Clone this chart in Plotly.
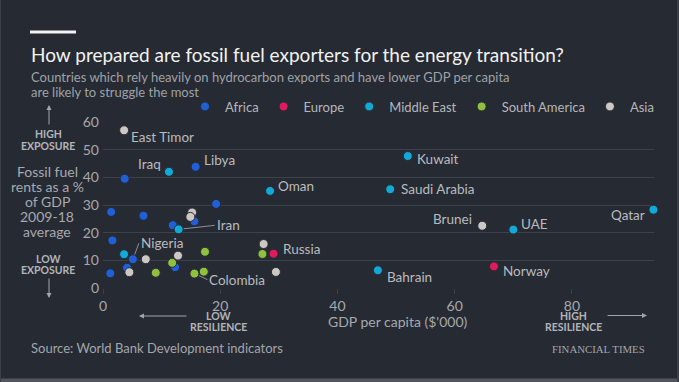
import plotly.graph_objects as go

# ---------------- data ----------------
regions = ["Africa", "Europe", "Middle East", "South America", "Asia"]

africa_x = [3.7, 15.8, 19.3, 1.4, 6.9, 15.6, 11.9, 1.6, 5.1, 12.3, 4.1, 1.25]
africa_y = [39.5, 43.8, 30.4, 27.5, 26.1, 24.1, 22.7, 17.2, 10.4, 7.5, 7.3, 5.3]
africa_names = ["", "Libya", "", "", "", "", "", "", "Nigeria", "", "", ""]

europe_x = [29.1, 66.7]
europe_y = [12.4, 7.8]
europe_names = ["Russia", "Norway"]

mideast_x = [11.25, 28.5, 12.9, 3.6, 52.0, 49.0, 93.9, 70.0, 46.9]
mideast_y = [42.0, 35.1, 21.2, 12.2, 47.7, 35.7, 28.3, 21.1, 6.4]
mideast_names = ["Iraq", "Oman", "Iran", "", "Kuwait", "Saudi Arabia", "Qatar", "UAE", "Bahrain"]

samerica_x = [11.8, 9.0, 15.6, 17.2, 17.4, 27.2]
samerica_y = [9.1, 5.5, 5.2, 5.9, 13.1, 12.3]
samerica_names = ["", "", "Colombia", "", "", ""]

asia_x = [3.6, 15.2, 14.9, 7.3, 12.8, 4.5, 27.4, 29.5, 64.7]
asia_y = [57.0, 27.3, 25.7, 10.4, 11.7, 5.7, 15.9, 5.8, 22.5]
asia_names = ["East Timor", "", "", "", "", "", "", "", "Brunei"]

x_ticks = [0, 20, 40, 60, 80]
y_ticks = [0, 10, 20, 30, 40, 50, 60]

# ---------------- style ----------------
W, H = 679, 382
L, R, T, B = 103, 25, 122, 94
PW, PH = W - L - R, H - T - B
BG = "#262a33"
GRID = "#3d414a"
FONT = "Lato"
colors = {"Africa": "#1f60d8", "Europe": "#e01a5e", "Middle East": "#12a8d8",
          "South America": "#8fc13d", "Asia": "#cdc8c4"}

# label offsets (px): xshift, yshift, anchor; leader lines: ax, ay
label_style = {
    "East Timor": (5, -7, "left"), "Iraq": (-6, 8, "right"), "Libya": (6, 7, "left"),
    "Oman": (6, 5, "left"), "Kuwait": (7, -3, "left"), "Saudi Arabia": (9, 0, "left"),
    "Qatar": (-6, -5, "right"), "Brunei": (-8, 7, "right"), "UAE": (6, 6, "left"),
    "Bahrain": (7, -7, "left"), "Norway": (7, -5, "left"), "Russia": (7, 5, "left"),
}
leader_style = {"Iran": (36, -4), "Nigeria": (6, -16), "Colombia": (13, 6)}

def px2x(px):
    return (px - L) / PW

def px2y(py):
    return 1 - (py - T) / PH

fig = go.Figure()

series = [
    ("Africa", africa_x, africa_y, africa_names),
    ("Europe", europe_x, europe_y, europe_names),
    ("Middle East", mideast_x, mideast_y, mideast_names),
    ("South America", samerica_x, samerica_y, samerica_names),
    ("Asia", asia_x, asia_y, asia_names),
]

LABEL_FONT = dict(family=FONT, size=13.5, color="#b9bbbf")
annotations = []
for name, xs, ys, names in series:
    fig.add_trace(go.Scatter(
        x=xs, y=ys, mode="markers", name=name, cliponaxis=False,
        marker=dict(size=9, color=colors[name], line=dict(width=1, color=BG)),
        hoverinfo="skip"))
    for xv, yv, lab in zip(xs, ys, names):
        if not lab:
            continue
        if lab in label_style:
            xs_, ys_, anc = label_style[lab]
            annotations.append(dict(x=xv, y=yv, xref="x", yref="y", text=lab,
                                    showarrow=False, xanchor=anc, yanchor="middle",
                                    xshift=xs_, yshift=ys_, font=LABEL_FONT))
        else:
            ax, ay = leader_style[lab]
            annotations.append(dict(x=xv, y=yv, xref="x", yref="y", text=lab,
                                    showarrow=True, arrowhead=0, arrowwidth=1,
                                    arrowcolor="#8d9096", ax=ax, ay=ay,
                                    axref="pixel", ayref="pixel", standoff=5,
                                    xanchor="left", yanchor="middle", font=LABEL_FONT))

def txt(px, py, text, size, color, anchor="left", bold=False, family=FONT):
    annotations.append(dict(x=px2x(px), y=px2y(py), xref="paper", yref="paper",
                            text=f"<b>{text}</b>" if bold else text, showarrow=False,
                            xanchor=anchor, yanchor="middle",
                            font=dict(family=family, size=size, color=color)))

def arrow(px_tip, py_tip, ax, ay):
    annotations.append(dict(x=px2x(px_tip), y=px2y(py_tip), xref="paper", yref="paper",
                            text="", showarrow=True, arrowhead=2, arrowsize=1,
                            arrowwidth=1, arrowcolor="#a3a6ab", ax=ax, ay=ay))

# titles
txt(29, 54, "How prepared are fossil fuel exporters for the energy transition?", 19, "#f2f2f2")
txt(29, 77, "Countries which rely heavily on hydrocarbon exports and have lower GDP per capita", 13, "#9fa2a7")
txt(29, 92, "are likely to struggle the most", 13, "#9fa2a7")

# left axis annotations
for py, t in [(134, "HIGH"), (145.5, "EXPOSURE"), (258.5, "LOW"), (269.5, "EXPOSURE")]:
    txt(48, py, t, 10.5, "#b3b5b9", anchor="center", bold=True)
for py, t in [(171, "Fossil fuel"), (186, "rents as a %"), (201, "of GDP"),
              (216.5, "2009-18"), (231.5, "average")]:
    txt(47, py, t, 14, "#a7a9ad", anchor="center")
arrow(49, 105, 0, 21)
arrow(49, 298, 0, -21)

# bottom axis annotations
txt(218.5, 315.5, "LOW", 10.5, "#b3b5b9", anchor="center", bold=True)
txt(218.5, 326.5, "RESILIENCE", 10.5, "#b3b5b9", anchor="center", bold=True)
txt(573.5, 315.5, "HIGH", 10.5, "#b3b5b9", anchor="center", bold=True)
txt(573.5, 326.5, "RESILIENCE", 10.5, "#b3b5b9", anchor="center", bold=True)
txt(398, 321, "GDP per capita ($'000)", 14, "#a7a9ad", anchor="center")
arrow(139, 316, 49, 0)
arrow(647, 315.5, -41, 0)

# footer
txt(29, 347.5, "Source: World Bank Development indicators", 13, "#a3a6ab")
txt(647, 349, "FINANCIAL TIMES", 10.8, "#a3a6ab", anchor="right", family="Liberation Serif")

shapes = [
    dict(type="rect", xref="paper", yref="paper", x0=px2x(30), x1=px2x(76),
         y0=px2y(30.5), y1=px2y(33.5), fillcolor="#f2f2f2", line=dict(width=0)),
    dict(type="rect", xref="paper", yref="paper", x0=px2x(0), x1=px2x(W),
         y0=px2y(378.5), y1=px2y(H), fillcolor="#52555c", line=dict(width=0)),
    dict(type="rect", xref="paper", yref="paper", x0=px2x(0), x1=px2x(1),
         y0=px2y(0), y1=px2y(H), fillcolor="#3c3f46", line=dict(width=0)),
    dict(type="rect", xref="paper", yref="paper", x0=px2x(W - 2), x1=px2x(W),
         y0=px2y(0), y1=px2y(H), fillcolor="#3c3f46", line=dict(width=0)),
]

fig.update_layout(
    width=W, height=H, paper_bgcolor=BG, plot_bgcolor=BG,
    margin=dict(l=L, r=R, t=T, b=B, pad=0, autoexpand=False),
    font=dict(family=FONT, color="#a7a9ad", size=14),
    showlegend=True,
    legend=dict(orientation="h", xref="container", yref="container",
                x=659 / W, y=1 - 106.5 / H, xanchor="right", yanchor="middle",
                bgcolor="rgba(0,0,0,0)",
                font=dict(family=FONT, size=13, color="#b5b7bb"),
                itemwidth=30, itemclick=False, itemdoubleclick=False,
                traceorder="normal", tracegroupgap=0),
    xaxis=dict(range=[0, 94], tickvals=x_ticks, showgrid=False, zeroline=False,
               showline=False, ticks="outside", ticklen=5, tickcolor=GRID,
               tickfont=dict(family=FONT, size=14, color="#a7a9ad"),
               fixedrange=True),
    yaxis=dict(range=[0, 60], tickvals=y_ticks, showgrid=True, gridcolor=GRID,
               gridwidth=1, zeroline=False, showline=False, ticks="",
               ticklabelstandoff=3,
               tickfont=dict(family=FONT, size=14, color="#a7a9ad"),
               fixedrange=True),
    annotations=annotations,
    shapes=shapes,
)

fig.write_html("out.html", config={"displayModeBar": False},
               post_script="document.body.style.margin='0';document.body.style.background='#262a33';")
